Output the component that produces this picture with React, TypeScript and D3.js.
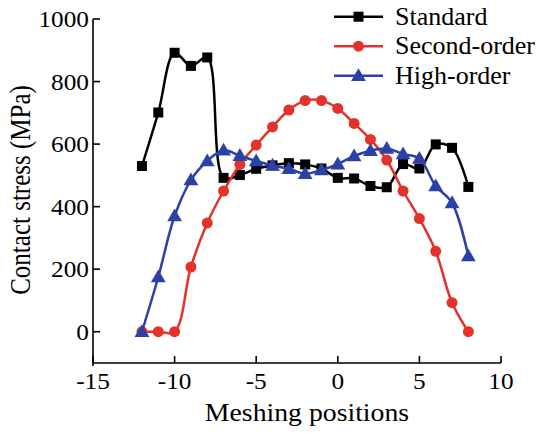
import React from "react";
import * as d3 from "d3";

const positions = [-12, -11, -10, -9, -8, -7, -6, -5, -4, -3, -2, -1, 0, 1, 2, 3, 4, 5, 6, 7, 8];
const standard = [530, 701, 892, 850, 877, 492, 501, 521, 532, 539, 535, 522, 492, 490, 466, 462, 536, 522, 599, 588, 463];
const secondOrder = [0, 0, 0, 207, 348, 450, 535, 597, 655, 709, 739, 739, 714, 666, 615, 549, 450, 362, 257, 93, 0];
const highOrder = [0, 175, 370, 485, 546, 580, 563, 546, 532, 521, 505, 517, 536, 562, 579, 586, 568, 554, 466, 412, 242];
const seriesNames = ["Standard", "Second-order", "High-order"];
const seriesColors = ["#000000", "#e3322b", "#2b41a6"];
const seriesShapes = ["square", "circle", "triangle"];
const xTicks = [-15, -10, -5, 0, 5, 10];
const yTicks = [0, 200, 400, 600, 800, 1000];

const FONT = "'Liberation Serif', 'Times New Roman', serif";
const SX = 1.1;

function Marker({ shape, x, y, color }: { shape: string; x: number; y: number; color: string }) {
  if (shape === "square") return <rect x={x - 5} y={y - 5} width={10} height={10} fill={color} />;
  if (shape === "circle") return <circle cx={x} cy={y} r={5.5} fill={color} />;
  const p = d3.symbol(d3.symbolTriangle, 95)();
  return <path d={p || ""} transform={`translate(${x},${y + 1})`} fill={color} />;
}

export default function App() {
  const width = 544;
  const height = 433;
  const x = d3.scaleLinear().domain([-15, 10]).range([93, 501]);
  const y = d3.scaleLinear().domain([-100, 1000]).range([363, 19]);
  const all = [standard, secondOrder, highOrder];
  const line = d3
    .line<number>()
    .x((_, i) => x(positions[i]))
    .y((d) => y(d))
    .curve(d3.curveCatmullRom.alpha(0.5));

  return (
    <svg width={width} height={height} style={{ position: "absolute", left: 0, top: 0 }}>
      <rect width={width} height={height} fill="#fff" />
      {/* axes */}
      <line x1={x(-15)} x2={x(-15)} y1={y(1000)} y2={y(-100) + 3} stroke="#000" strokeWidth={1.6} />
      <line x1={x(-15)} x2={x(10)} y1={y(-100)} y2={y(-100)} stroke="#000" strokeWidth={1.6} />
      {yTicks.map((t) => (
        <g key={"y" + t}>
          <line x1={x(-15)} x2={x(-15) + 7} y1={y(t)} y2={y(t)} stroke="#000" strokeWidth={1.6} />
          <text
            transform={`translate(${x(-15) - 4},${y(t)}) scale(${SX},1)`}
            dy="0.35em"
            textAnchor="end"
            fontFamily={FONT}
            fontSize={23}
          >
            {t}
          </text>
        </g>
      ))}
      {xTicks.map((t) => (
        <g key={"x" + t}>
          <line x1={x(t)} x2={x(t)} y1={y(-100)} y2={y(-100) - 7} stroke="#000" strokeWidth={1.6} />
          <text
            transform={`translate(${x(t)},389) scale(${SX},1)`}
            textAnchor="middle"
            fontFamily={FONT}
            fontSize={23}
          >
            {t}
          </text>
        </g>
      ))}
      <text
        transform={`translate(307,421) scale(1.11,1)`}
        textAnchor="middle"
        fontFamily={FONT}
        fontSize={25}
      >
        Meshing positions
      </text>
      <text transform="translate(30,190) scale(1.15,1) rotate(-90)" textAnchor="middle" fontFamily={FONT} fontSize={25}>
        Contact stress (MPa)
      </text>
      {/* series */}
      {all.map((vals, si) => (
        <g key={seriesNames[si]}>
          <path d={line(vals) || ""} fill="none" stroke={seriesColors[si]} strokeWidth={2.5} />
          {vals.map((v, i) => (
            <Marker key={i} shape={seriesShapes[si]} x={x(positions[i])} y={y(v)} color={seriesColors[si]} />
          ))}
        </g>
      ))}
      {/* legend */}
      {seriesNames.map((n, i) => {
        const ly = 16.7 + i * 29.5;
        return (
          <g key={"l" + n}>
            <line x1={334} x2={383} y1={ly} y2={ly} stroke={seriesColors[i]} strokeWidth={2.5} />
            <Marker shape={seriesShapes[i]} x={358.5} y={ly} color={seriesColors[i]} />
            <text
              transform={`translate(395,${ly}) scale(1.04,1)`}
              dy="0.33em"
              fontFamily={FONT}
              fontSize={25}
            >
              {n}
            </text>
          </g>
        );
      })}
    </svg>
  );
}
